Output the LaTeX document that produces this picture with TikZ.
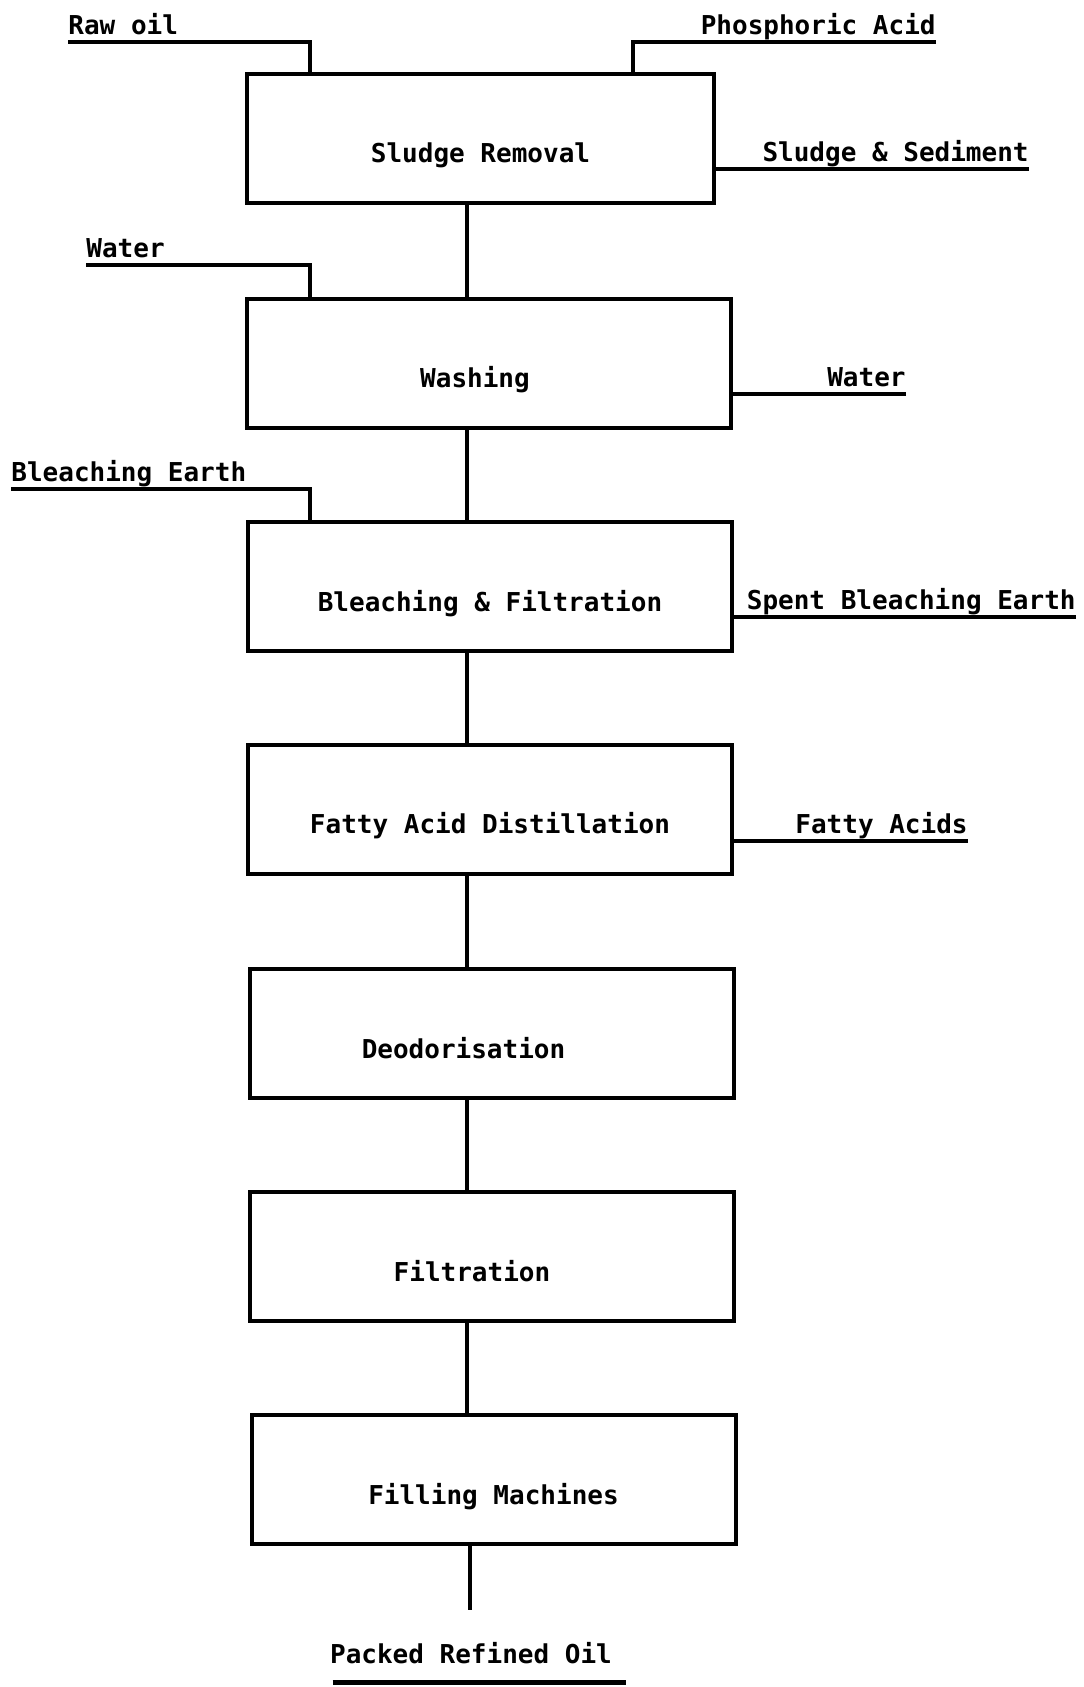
\documentclass[tikz,border=0pt]{standalone}
\usepackage{fontspec}
\setmonofont{DejaVu Sans Mono}
\usetikzlibrary{calc}
\newcommand{\flowfont}{\fontsize{13}{15}\selectfont\ttfamily\bfseries}
\tikzset{
  stage/.style={draw=black,line width=2pt,minimum width=242pt,minimum height=64.5pt,font=\flowfont,text height=26pt,text depth=1.5pt,inner sep=0pt},
  stream/.style={font=\flowfont,inner xsep=0pt,inner ysep=3.5pt,text depth=0pt},
  pipe/.style={draw=black,line width=1.6pt}
}

\begin{document}
\begin{tikzpicture}[x=0.5pt,y=-0.5pt]
  \useasboundingbox (0,0) rectangle (1083,1687);

  % process stages, top to bottom
  \node (sr) [stage,minimum width=233.5pt] at (480.5,138) {Sludge Removal};
  \node (wash) [stage] at (489,363) {Washing\hspace*{14pt}};
  \node (bf) [stage] at (490,586.5) {Bleaching \& Filtration};
  \node (fad) [stage] at (490,809) {Fatty Acid Distillation};
  \node (deo) [stage] at (491.5,1033.5) {Deodorisation\hspace*{28pt}};
  \node (filt) [stage] at (492,1256.5) {Filtration\hspace*{20pt}};
  \node (fill) [stage] at (493.5,1479.5) {Filling Machines};

  % main oil line
  \coordinate (spine) at (467,0);
  \foreach \a/\b in {sr/wash,wash/bf,bf/fad,fad/deo,deo/filt,filt/fill}
    \draw[pipe] (\a.south -| spine) -- (\b.north -| spine);
  \coordinate (oilend) at (470,1610);
  \draw[pipe] (fill.south -| oilend) -- (oilend);
  \node (packed) [font=\flowfont,inner sep=0pt] at (471,1653) {Packed Refined Oil};
  \draw[line width=2.6pt] ($(packed.south west)+(3,18)$) -- ($(packed.south east)+(14,18)$);

  % feeds in
  \node (rawoil) [stream,anchor=south west] at (68,42) {Raw oil};
  \node (phos) [stream,anchor=south east] at (936,42) {Phosphoric Acid};
  \node (waterin) [stream,anchor=south west] at (86,265) {Water};
  \node (earth) [stream,anchor=south west] at (11,489) {Bleaching Earth};
  \path (sr.north west) ++(65,0) coordinate (rawin);
  \path (sr.north west) ++(388,0) coordinate (phosin);
  \path (wash.north west) ++(65,0) coordinate (waterfeed);
  \path (bf.north west) ++(64,0) coordinate (earthfeed);
  \draw[pipe] (rawoil.south west) -| (rawin);
  \draw[pipe] (phos.south east) -| (phosin);
  \draw[pipe] (waterin.south west) -| (waterfeed);
  \draw[pipe] (earth.south west) -| (earthfeed);

  % by-products out
  \node (sed) [stream,anchor=south east] at (1029,169) {Sludge \& Sediment};
  \node (waterout) [stream,anchor=south east] at (906,394) {Water};
  \node (spent) [stream,anchor=south east] at (1076,617) {Spent Bleaching Earth};
  \node (acids) [stream,anchor=south east] at (968,841) {Fatty Acids};
  \draw[pipe] (sed.south east) -- (sed.south east -| sr.east);
  \draw[pipe] (waterout.south east) -- (waterout.south east -| wash.east);
  \draw[pipe] (spent.south east) -- (spent.south east -| bf.east);
  \draw[pipe] (acids.south east) -- (acids.south east -| fad.east);
\end{tikzpicture}
\end{document}
